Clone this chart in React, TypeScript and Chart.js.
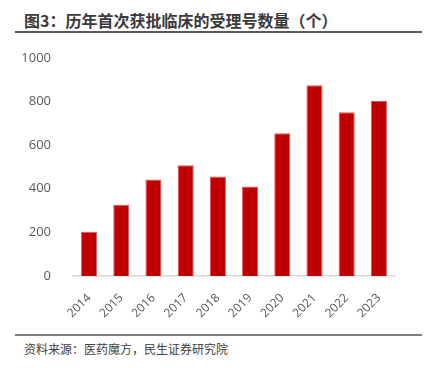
import React, { useEffect, useRef } from "react";
import { Chart, registerables } from "chart.js";

Chart.register(...registerables);

const categories = ["2014", "2015", "2016", "2017", "2018", "2019", "2020", "2021", "2022", "2023"];
const counts = [203, 327, 442, 507, 456, 410, 654, 874, 750, 802];
const yTicks = [0, 200, 400, 600, 800, 1000];

const titleText = "图3：历年首次获批临床的受理号数量（个）";
const sourceText = "资料来源：医药魔方，民生证券研究院";

export default function App() {
  const ref = useRef<HTMLCanvasElement | null>(null);

  useEffect(() => {
    document.body.style.margin = "0";
    const ctx = ref.current;
    if (!ctx) return;
    const chart = new Chart(ctx, {
      type: "bar",
      data: {
        labels: categories,
        datasets: [
          {
            data: counts,
            backgroundColor: "#C00000",
            borderColor: "#D9585A",
            borderWidth: { top: 1, left: 1, right: 1, bottom: 0 },
            barPercentage: 0.5,
            categoryPercentage: 1,
          },
        ],
      },
      options: {
        animation: false,
        responsive: false,
        maintainAspectRatio: false,
        layout: { padding: { top: 8, right: 34, left: 0, bottom: 0 } },
        plugins: { legend: { display: false }, tooltip: { enabled: false } },
        scales: {
          x: {
            grid: { display: false },
            border: { display: true, color: "#D9D9D9", width: 1.5 },
            ticks: {
              color: "#595959",
              font: { family: "'Open Sans', 'Noto Sans', sans-serif", size: 12 },
              minRotation: 45,
              maxRotation: 45,
              padding: 7,
            },
            afterFit: (scale: any) => {
              scale.height = 54;
            },
          },
          y: {
            min: 0,
            max: 1000,
            grid: { display: false },
            border: { display: false },
            afterBuildTicks: (scale: any) => {
              scale.ticks = yTicks.map((v) => ({ value: v }));
            },
            ticks: {
              color: "#595959",
              font: { family: "'Open Sans', 'Noto Sans', sans-serif", size: 13 },
              padding: 14,
              callback: (v: any) => String(v),
            },
            afterFit: (scale: any) => {
              scale.width = 73;
            },
          },
        },
      },
    });
    return () => chart.destroy();
  }, []);

  return (
    <div style={{ position: "relative", width: 429, height: 368, background: "#fff", overflow: "hidden" }}>
      <div
        style={{
          position: "absolute",
          left: 24,
          top: 9,
          fontFamily: "'Noto Sans CJK SC', sans-serif",
          fontWeight: 700,
          fontSize: 16,
          lineHeight: "22px",
          color: "#3A3A3A",
          whiteSpace: "nowrap",
        }}
      >
        {titleText}
      </div>
      <canvas ref={ref} width={429} height={294} style={{ position: "absolute", left: 0, top: 36, width: 429, height: 294 }} />
      <div style={{ position: "absolute", left: 15, top: 31, width: 407, height: 2, background: "#595959" }} />
      <div style={{ position: "absolute", left: 15, top: 334, width: 407, height: 1.5, background: "#7F7F7F" }} />
      <div
        style={{
          position: "absolute",
          left: 24,
          top: 340,
          fontFamily: "'Noto Sans CJK SC', sans-serif",
          fontSize: 12,
          lineHeight: "18px",
          color: "#404040",
          whiteSpace: "nowrap",
        }}
      >
        {sourceText}
      </div>
    </div>
  );
}
